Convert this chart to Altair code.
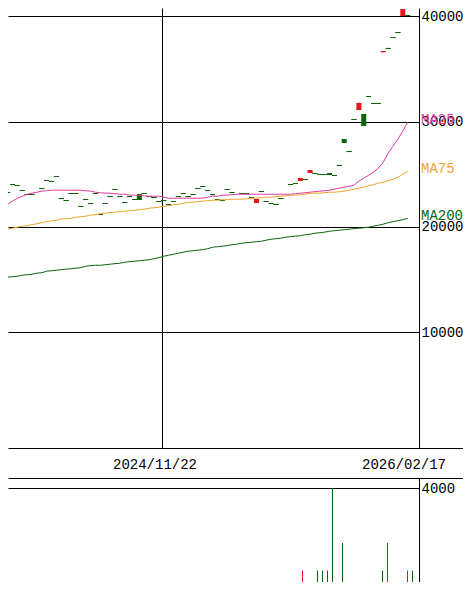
import altair as alt
import pandas as pd

# ---------------- data ----------------
# weekly candles: index position, open / close / high / low (yen)
c_idx = [0, 1, 2, 3, 4, 5, 7, 8, 9, 10,
         11, 12, 13, 14, 15, 16, 17, 18, 19, 20,
         21, 22, 23, 24, 25, 26, 27, 28, 29, 30,
         31, 32, 33, 34, 35, 36, 37, 38, 39, 40,
         41, 42, 43, 44, 45, 46, 48, 49, 50, 51,
         52, 53, 54, 55, 56, 58, 59, 60, 61, 62,
         63, 64, 65, 66, 67, 68, 69, 70, 71, 72,
         73, 74, 75, 76, 77, 78, 79, 80, 81, 82]
c_open = [23270, 24030, 23940, 23460, 23080, 23080, 23650, 24410, 24320, 24790,
          22700, 22510, 23180, 23180, 21950, 22610, 22230, 23180, 21190, 22230,
          22890, 23560, 22890, 22320, 22890, 22610, 23080, 23180, 22890, 22800,
          22420, 22510, 22130, 22420, 22890, 23180, 22890, 23080, 23650, 23840,
          23460, 23080, 22610, 22510, 23560, 23270, 23180, 23180, 22800, 22320,
          23370, 22420, 22230, 22130, 22700, 24030, 24130, 24410, 24510, 25170,
          25080, 24980, 24980, 25080, 24890, 25840, 28300, 27160, 30200, 31150,
          30670, 32380, 31720, 31720, 36620, 36940, 37980, 38450, 40070, 40070]
c_close = [23270, 24030, 23940, 23460, 23080, 23080, 23650, 24410, 24320, 24790,
           22700, 22510, 23180, 23180, 21950, 22610, 22230, 23180, 21190, 22230,
           22890, 23560, 22890, 22320, 22890, 22610, 22610, 23180, 22890, 22800,
           22420, 22510, 22130, 22420, 22890, 23180, 22890, 23080, 23650, 23840,
           23460, 23080, 22610, 22510, 23560, 23270, 23180, 23180, 22800, 22610,
           23370, 22420, 22230, 22130, 22700, 24030, 24130, 24600, 24510, 25360,
           25080, 24980, 24980, 24980, 24890, 25840, 28020, 27160, 30200, 31720,
           29630, 32380, 31720, 31720, 36650, 36940, 37980, 38450, 40640, 40070]
c_high = [23270, 24030, 23940, 23460, 23080, 23080, 23650, 24410, 24320, 24790,
          22700, 22510, 23180, 23180, 21950, 22610, 22230, 23180, 21190, 22230,
          22890, 23560, 22890, 22320, 22890, 22610, 23080, 23180, 22890, 22800,
          22420, 22510, 22130, 22420, 22890, 23180, 22890, 23080, 23650, 23840,
          23460, 23080, 22610, 22510, 23560, 23270, 23180, 23180, 22800, 22610,
          23370, 22420, 22230, 22130, 22700, 24030, 24130, 24600, 24510, 25360,
          25080, 24980, 24980, 25080, 24890, 25840, 28300, 27160, 30200, 31810,
          30670, 32380, 31720, 31720, 36650, 36940, 37980, 38450, 40640, 40070]
c_low = [23270, 24030, 23940, 23460, 23080, 23080, 23650, 24410, 24320, 24790,
         22700, 22510, 23180, 23180, 21950, 22610, 22230, 23180, 21190, 22230,
         22890, 23560, 22890, 22320, 22890, 22610, 22610, 23180, 22890, 22800,
         22420, 22510, 22130, 22420, 22890, 23180, 22890, 23080, 23650, 23840,
         23460, 23080, 22610, 22510, 23560, 23270, 23180, 23180, 22800, 22320,
         23370, 22420, 22230, 22130, 22700, 24030, 24130, 24410, 24510, 25170,
         25080, 24980, 24980, 24980, 24890, 25840, 28020, 27160, 30200, 31150,
         29630, 32380, 31720, 31720, 36620, 36940, 37980, 38450, 40070, 40070]

# moving averages, one value per week index 0..82
ma25 = [22160, 22450, 22730, 22920, 23110, 23210, 23300, 23400, 23440, 23490,
        23490, 23490, 23490, 23490, 23490, 23490, 23440, 23400, 23300, 23250,
        23210, 23210, 23160, 23110, 23110, 23020, 23020, 22970, 22970, 22920,
        22920, 22920, 22830, 22730, 22730, 22730, 22730, 22730, 22730, 22730,
        22730, 22830, 22920, 22920, 23020, 23020, 23060, 23110, 23110, 23110,
        23110, 23110, 23110, 23110, 23110, 23110, 23110, 23110, 23110, 23160,
        23210, 23250, 23300, 23350, 23400, 23440, 23490, 23590, 23680, 23780,
        23870, 23970, 24350, 24630, 24910, 25200, 25580, 26150, 27000, 27670,
        28330, 29090, 29940]
ma75 = [19790, 19890, 19980, 20080, 20120, 20220, 20310, 20410, 20500, 20600,
        20640, 20740, 20790, 20830, 20930, 20980, 21020, 21120, 21170, 21260,
        21310, 21360, 21400, 21450, 21500, 21550, 21590, 21640, 21690, 21780,
        21830, 21880, 21970, 22020, 22120, 22160, 22260, 22310, 22350, 22400,
        22450, 22500, 22540, 22540, 22590, 22590, 22640, 22640, 22640, 22680,
        22730, 22730, 22780, 22830, 22830, 22870, 22920, 22970, 23020, 23020,
        23060, 23110, 23210, 23210, 23210, 23250, 23300, 23300, 23350, 23400,
        23490, 23590, 23680, 23780, 23920, 24010, 24160, 24250, 24390, 24530,
        24720, 25010, 25290]
ma200 = [15240, 15280, 15330, 15430, 15470, 15520, 15620, 15660, 15810, 15850,
         15900, 15950, 16000, 16040, 16090, 16140, 16280, 16330, 16370, 16370,
         16420, 16470, 16520, 16560, 16660, 16710, 16750, 16800, 16850, 16900,
         16990, 17090, 17230, 17320, 17420, 17510, 17610, 17700, 17750, 17800,
         17850, 17940, 18080, 18130, 18180, 18230, 18320, 18370, 18460, 18510,
         18560, 18600, 18650, 18750, 18840, 18890, 18940, 19030, 19080, 19130,
         19170, 19270, 19320, 19410, 19460, 19510, 19600, 19650, 19700, 19740,
         19790, 19840, 19890, 19930, 19980, 20080, 20170, 20270, 20410, 20500,
         20600, 20690, 20830]
ma_names = ["MA25", "MA75", "MA200"]
ma_colors = ["#dc3a9c", "#f0a22a", "#0a640a"]

# volume
v_idx = [11, 12, 13, 38, 39, 40, 49, 52, 56, 57, 60, 63, 64, 65, 66, 67, 68, 71, 76, 77, 81, 82]
v_val = [80, 80, 80, 80, 80, 80, 80, 80, 80, 80, 1000, 1000, 1000, 1000, 4000, 470, 2000, 80, 1000, 2000, 1000, 1000]
v_dir = ["down", "down", "down", "down", "down", "down", "down", "down", "down", "up", "up",
         "down", "down", "down", "down", "down", "down", "down", "down", "up", "up", "down"]

price_ticks = [10000, 20000, 30000, 40000]
vol_ticks = [4000]
date_grid = [31.6]
date_labels = ["2024/11/22", "2026/02/17"]
date_label_pos = [30.5, 80.3]

# ---------------- style / geometry ----------------
W = 411
H_MAIN, H_DATE, H_VOL = 440, 30, 104
FONT = "Liberation Mono"
FS = 14
RED, GREEN = "#e8141e", "#0a640a"

xs = alt.Scale(domain=[1.1, 83.3], nice=False, zero=False)
ys = alt.Scale(domain=[-968, 40778], nice=False, zero=False)
vys = alt.Scale(domain=[582, 4364], nice=False, zero=False)
dir_scale = alt.Scale(domain=["up", "down"], range=[RED, GREEN])
ma_scale = alt.Scale(domain=ma_names, range=ma_colors)

x_axis = alt.Axis(values=date_grid, grid=True, labels=False, ticks=False,
                  domain=False, title=None, zindex=0)
y_axis = alt.Axis(orient="right", values=price_ticks, grid=True, ticks=False,
                  tickSize=0, labelPadding=2, format="d", labelOverlap=False,
                  title=None, domain=True, zindex=0)
v_axis = alt.Axis(orient="right", values=vol_ticks, grid=True, ticks=False,
                  tickSize=0, labelPadding=2, format="d", labelOverlap=False,
                  title=None, domain=True, zindex=0)

cdf = pd.DataFrame(dict(i=c_idx, open=c_open, close=c_close, high=c_high, low=c_low))
cdf["dir"] = ["up" if c > o else "down" for o, c in zip(c_open, c_close)]

n = len(ma25)
ma_df = pd.DataFrame({
    "i": list(range(n)) * 3,
    "value": ma25 + ma75 + ma200,
    "name": ["MA25"] * n + ["MA75"] * n + ["MA200"] * n,
})
lab_df = pd.DataFrame({"name": ma_names, "value": [ma25[-1], ma75[-1], ma200[-1]]})

X = alt.X("i:Q", scale=xs, axis=x_axis)

body = alt.Chart(cdf).mark_bar(size=5, clip=True, opacity=1).encode(
    X, alt.Y("open:Q", scale=ys, axis=y_axis), alt.Y2("close:Q"),
    fill=alt.Fill("dir:N", scale=dir_scale, legend=None))
wick = alt.Chart(cdf).mark_rule(strokeWidth=1, clip=True, opacity=1).encode(
    X, alt.Y("high:Q", scale=ys, axis=y_axis), alt.Y2("low:Q"),
    stroke=alt.Stroke("dir:N", scale=dir_scale, legend=None))
tick_o = alt.Chart(cdf).mark_tick(orient="horizontal", size=5, thickness=1, clip=True, opacity=1).encode(
    X, alt.Y("open:Q", scale=ys, axis=y_axis),
    fill=alt.Fill("dir:N", scale=dir_scale, legend=None))
tick_c = alt.Chart(cdf).mark_tick(orient="horizontal", size=5, thickness=1, clip=True, opacity=1).encode(
    X, alt.Y("close:Q", scale=ys, axis=y_axis),
    fill=alt.Fill("dir:N", scale=dir_scale, legend=None))
lines = alt.Chart(ma_df).mark_line(strokeWidth=1, clip=True).encode(
    X, alt.Y("value:Q", scale=ys, axis=y_axis),
    color=alt.Color("name:N", scale=ma_scale, legend=None))
labels = alt.Chart(lab_df).mark_text(align="left", baseline="middle", dy=-2,
                                     font=FONT, fontSize=FS).encode(
    x=alt.value(413), y=alt.Y("value:Q", scale=ys, axis=y_axis),
    text="name:N",
    color=alt.Color("name:N", scale=ma_scale, legend=None))

main = alt.layer(body, wick, tick_o, tick_c, lines, labels).resolve_scale(
    color="independent", fill="independent", stroke="independent"
).properties(width=W, height=H_MAIN)

frame = pd.DataFrame({"k": [0]})
date_df = pd.DataFrame({"label": date_labels, "pos": date_label_pos})
date_line = alt.Chart(frame).mark_rule(color="black", strokeWidth=1).encode(
    x=alt.value(0.5), x2=alt.value(455), y=alt.value(0.5))
date_text = alt.Chart(date_df).mark_text(font=FONT, fontSize=FS, baseline="middle",
                                         align="center", color="black").encode(
    x=alt.X("pos:Q", scale=xs, axis=None), y=alt.value(16.5), text="label:N")
date = alt.layer(date_line, date_text).properties(width=W, height=H_DATE)

vdf = pd.DataFrame({"i": v_idx, "vol": v_val, "dir": v_dir})
vol_line = alt.Chart(frame).mark_rule(color="black", strokeWidth=1).encode(
    x=alt.value(0.5), x2=alt.value(455), y=alt.value(0.5))
vbars = alt.Chart(vdf).mark_rule(strokeWidth=1, clip=True).encode(
    x=alt.X("i:Q", scale=xs, axis=None),
    y=alt.Y("vol:Q", scale=vys, axis=v_axis), y2=alt.datum(0),
    stroke=alt.Stroke("dir:N", scale=dir_scale, legend=None))
vol = alt.layer(vol_line, vbars).properties(width=W, height=H_VOL)

chart = alt.vconcat(main, date, vol, spacing=0, bounds="flush").properties(
    padding=0, background="white"
).configure_view(stroke=None).configure_axis(
    gridColor="black", gridOpacity=1, gridWidth=1,
    domainColor="black", domainWidth=1,
    labelColor="black", labelFont=FONT, labelFontSize=FS, tickRound=True,
)

chart.save("out.html", embed_options={"renderer": "svg", "actions": False})
